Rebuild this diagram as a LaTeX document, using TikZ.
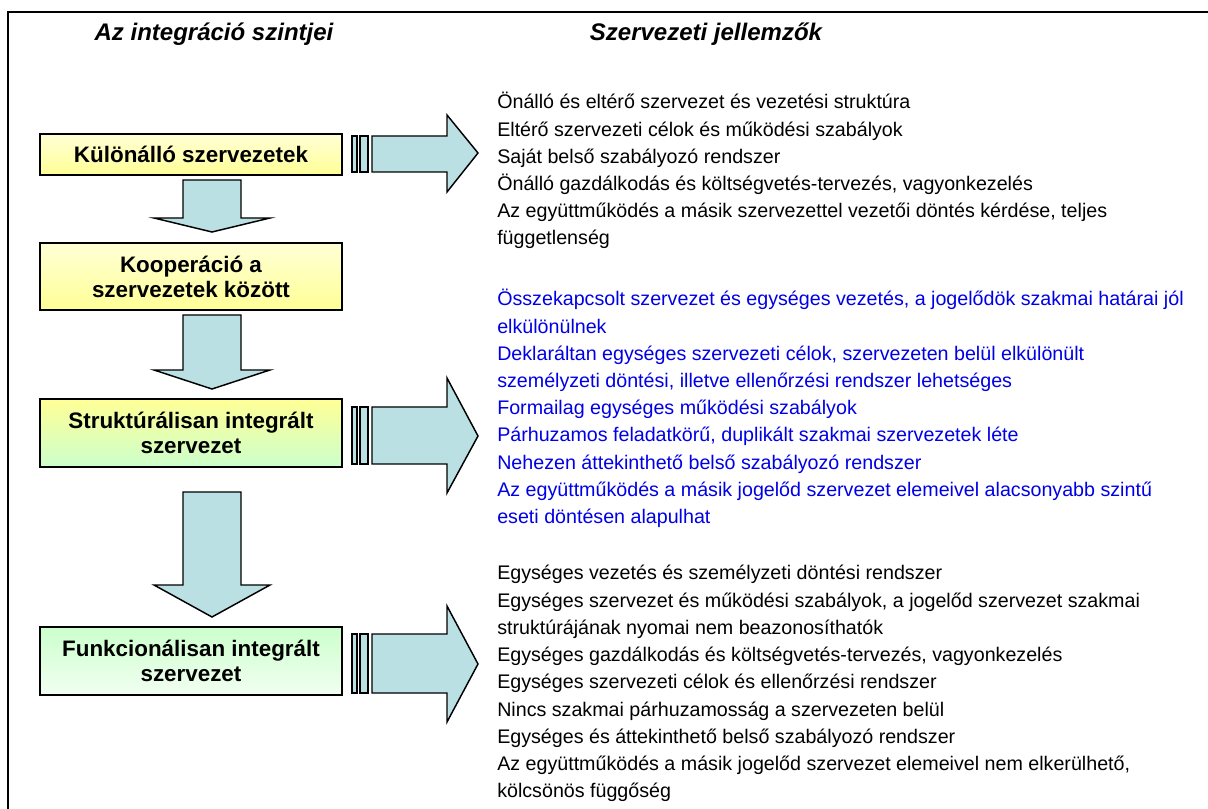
\documentclass[tikz,border=0pt]{standalone}
\usepackage{fontspec}
\setmainfont{Liberation Sans}
\definecolor{arrowfill}{RGB}{187,224,227}
\definecolor{ylight}{RGB}{255,255,214}
\definecolor{ydark}{RGB}{255,255,150}
\definecolor{gmid}{RGB}{204,255,204}
\definecolor{glight}{RGB}{242,255,242}
\definecolor{txtblue}{RGB}{0,0,230}
\begin{document}
\begin{tikzpicture}[x=0.75pt,y=-0.75pt,
  box/.style={draw=black, line width=1.3pt, inner sep=0pt, align=center,
    minimum width=226.5pt, font=\fontsize{16.8}{18.75}\selectfont\bfseries},
  blockarrow/.style={draw=black, line width=1.1pt, fill=arrowfill, line join=miter},
  hdr/.style={font=\fontsize{18}{21}\selectfont\bfseries\itshape, inner sep=0pt},
  body/.style={anchor=base west, inner sep=0pt, font=\fontsize{14.75}{17}\selectfont},
  bluebody/.style={body, text=txtblue}]
\useasboundingbox (0,0) rectangle (1208,809);
\fill[white] (0,0) rectangle (1208,809);
% frame
\draw[line width=1.5pt] (8,809) -- (8,12) -- (1208,12);
% headers
\node[hdr] (h1) at (214,34) {Az integráció szintjei};
\node[hdr] (h2) at (706,34) {Szervezeti jellemzők};
% boxes
\node[box, minimum height=30.75pt, top color=ylight, bottom color=ydark] (b1) at (191,154.5) {Különálló szervezetek};
\node[box, minimum height=50.25pt, top color=ylight, bottom color=ydark] (b2) at (191,276.5) {Kooperáció a\\szervezetek között};
\node[box, minimum height=51pt, top color=ydark, bottom color=gmid] (b3) at (191,433) {Struktúrálisan integrált\\szervezet};
\node[box, minimum height=51pt, top color=gmid, bottom color=glight] (b4) at (191,661) {Funkcionálisan integrált\\szervezet};
% down arrows
\draw[blockarrow] (183,180) -- (241,180) -- (241,218) -- (270,218) -- (212,232) -- (154,218) -- (183,218) -- cycle;
\draw[blockarrow] (183,315) -- (241,315) -- (241,370) -- (270,370) -- (212,389) -- (154,370) -- (183,370) -- cycle;
\draw[blockarrow] (183,492) -- (241,492) -- (241,585) -- (270,585) -- (212,617) -- (154,585) -- (183,585) -- cycle;
% right arrows
\draw[blockarrow] (352,136) rectangle (357,172);
\draw[blockarrow] (360,136) rectangle (368,172);
\draw[blockarrow] (372,136) -- (447,136) -- (447,115) -- (478,153) -- (447,192) -- (447,172) -- (372,172) -- cycle;
\draw[blockarrow] (352,407) rectangle (357,464);
\draw[blockarrow] (360,407) rectangle (368,464);
\draw[blockarrow] (372,407) -- (447,407) -- (447,378) -- (478,436) -- (447,493) -- (447,464) -- (372,464) -- cycle;
\draw[blockarrow] (352,634) rectangle (357,693);
\draw[blockarrow] (360,634) rectangle (368,693);
\draw[blockarrow] (372,634) -- (447,634) -- (447,606) -- (478,664) -- (447,722) -- (447,693) -- (372,693) -- cycle;
% block 1
\node[body] (a1) at (497,109) {Önálló és eltérő szervezet és vezetési struktúra};
\node[body] (a2) at (497,136.2) {Eltérő szervezeti célok és működési szabályok};
\node[body] (a3) at (497,163.4) {Saját belső szabályozó rendszer};
\node[body] (a4) at (497,190.6) {Önálló gazdálkodás és költségvetés-tervezés, vagyonkezelés};
\node[body] (a5) at (497,217.8) {Az együttműködés a másik szervezettel vezetői döntés kérdése, teljes};
\node[body] (a6) at (497,245) {függetlenség};
% block 2
\node[bluebody] (c1) at (497,306) {Összekapcsolt szervezet és egységes vezetés, a jogelődök szakmai határai jól};
\node[bluebody] (c2) at (497,333.2) {elkülönülnek};
\node[bluebody] (c3) at (497,360.4) {Deklaráltan egységes szervezeti célok, szervezeten belül elkülönült};
\node[bluebody] (c4) at (497,387.6) {személyzeti döntési, illetve ellenőrzési rendszer lehetséges};
\node[bluebody] (c5) at (497,414.8) {Formailag egységes működési szabályok};
\node[bluebody] (c6) at (497,442) {Párhuzamos feladatkörű, duplikált szakmai szervezetek léte};
\node[bluebody] (c7) at (497,469.2) {Nehezen áttekinthető belső szabályozó rendszer};
\node[bluebody] (c8) at (497,496.4) {Az együttműködés a másik jogelőd szervezet elemeivel alacsonyabb szintű};
\node[bluebody] (c9) at (497,523.6) {eseti döntésen alapulhat};
% block 3
\node[body] (d1) at (497,580) {Egységes vezetés és személyzeti döntési rendszer};
\node[body] (d2) at (497,607.2) {Egységes szervezet és működési szabályok, a jogelőd szervezet szakmai};
\node[body] (d3) at (497,634.4) {struktúrájának nyomai nem beazonosíthatók};
\node[body] (d4) at (497,661.6) {Egységes gazdálkodás és költségvetés-tervezés, vagyonkezelés};
\node[body] (d5) at (497,688.8) {Egységes szervezeti célok és ellenőrzési rendszer};
\node[body] (d6) at (497,716) {Nincs szakmai párhuzamosság a szervezeten belül};
\node[body] (d7) at (497,743.2) {Egységes és áttekinthető belső szabályozó rendszer};
\node[body] (d8) at (497,770.4) {Az együttműködés a másik jogelőd szervezet elemeivel nem elkerülhető,};
\node[body] (d9) at (497,797.6) {kölcsönös függőség};
\end{tikzpicture}
\end{document}
